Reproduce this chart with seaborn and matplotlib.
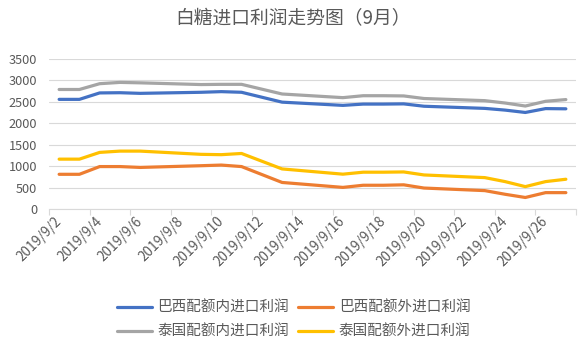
import matplotlib
matplotlib.use("Agg")
import matplotlib.pyplot as plt
from matplotlib.lines import Line2D
import pandas as pd
import seaborn as sns

# ---- data ----
dates = ["2019-09-02", "2019-09-03", "2019-09-04", "2019-09-05", "2019-09-06",
         "2019-09-09", "2019-09-10", "2019-09-11", "2019-09-13",
         "2019-09-16", "2019-09-17", "2019-09-18", "2019-09-19", "2019-09-20",
         "2019-09-23", "2019-09-24", "2019-09-25", "2019-09-26", "2019-09-27"]
brazil_in = [2560, 2560, 2710, 2715, 2700, 2725, 2740, 2725, 2495,
             2420, 2450, 2450, 2455, 2400, 2350, 2310, 2255, 2345, 2340]
brazil_out = [815, 815, 995, 995, 975, 1015, 1030, 995, 625,
              510, 560, 560, 570, 495, 435, 350, 275, 388, 388]
thai_in = [2790, 2790, 2925, 2955, 2945, 2905, 2910, 2910, 2685,
           2600, 2645, 2645, 2640, 2580, 2530, 2475, 2405, 2515, 2555]
thai_out = [1168, 1168, 1325, 1355, 1355, 1280, 1272, 1300, 940,
            818, 864, 864, 870, 800, 738, 645, 528, 645, 700]
series_names = ["巴西配额内进口利润", "巴西配额外进口利润",
                "泰国配额内进口利润", "泰国配额外进口利润"]
tick_dates = ["2019-09-02", "2019-09-04", "2019-09-06", "2019-09-08", "2019-09-10",
              "2019-09-12", "2019-09-14", "2019-09-16", "2019-09-18", "2019-09-20",
              "2019-09-22", "2019-09-24", "2019-09-26"]
tick_labels = ["2019/9/2", "2019/9/4", "2019/9/6", "2019/9/8", "2019/9/10",
               "2019/9/12", "2019/9/14", "2019/9/16", "2019/9/18", "2019/9/20",
               "2019/9/22", "2019/9/24", "2019/9/26"]
y_ticks = [0, 500, 1000, 1500, 2000, 2500, 3000, 3500]
title = "白糖进口利润走势图（9月）"

colors = ["#4472C4", "#ED7D31", "#A5A5A5", "#FFC000"]

wide = pd.DataFrame({"date": pd.to_datetime(dates),
                     series_names[0]: brazil_in,
                     series_names[1]: brazil_out,
                     series_names[2]: thai_in,
                     series_names[3]: thai_out})
df = wide.melt(id_vars="date", var_name="series", value_name="profit")

sns.set_theme(style="white")
plt.rcParams["font.family"] = ["Noto Sans CJK SC", "DejaVu Sans"]

W, H = 587, 356
fig = plt.figure(figsize=(W / 100, H / 100), dpi=100)
left, right, top, bottom = 49, 576, 59, 209.3
ax = fig.add_axes([left / W, 1 - bottom / H, (right - left) / W, (bottom - top) / H])

sns.lineplot(data=df, x="date", y="profit", hue="series", hue_order=series_names,
             palette=colors, linewidth=2.3, ax=ax, legend=False)
for ln in ax.lines:
    ln.set_solid_joinstyle("round")
    ln.set_solid_capstyle("round")

grey_txt = "#595959"
grid_c = "#D9D9D9"

ax.set_ylim(0, 3500)
ax.set_yticks(y_ticks)
ax.set_yticklabels([str(v) for v in y_ticks])
ax.yaxis.grid(True, color=grid_c, linewidth=0.8)
ax.set_axisbelow(True)

x0 = pd.Timestamp("2019-09-01 12:00")
x1 = pd.Timestamp("2019-09-27 12:00")
ax.set_xlim(x0, x1)
ax.set_xticks(pd.to_datetime(tick_dates))
ax.set_xticklabels(tick_labels)
minor = pd.date_range(x0, x1, freq="2D")
ax.set_xticks(minor, minor=True)

for s in ["top", "right", "left"]:
    ax.spines[s].set_visible(False)
ax.spines["bottom"].set_color(grid_c)
ax.spines["bottom"].set_linewidth(0.8)

ax.tick_params(axis="x", which="major", length=0, pad=7, labelsize=9.8, labelcolor=grey_txt)
ax.tick_params(axis="x", which="minor", length=4, width=0.8, color=grid_c, bottom=True)
ax.tick_params(axis="y", length=0, pad=8.5, labelsize=9.2, labelcolor=grey_txt)
for lab in ax.get_xticklabels():
    lab.set_rotation(45)
    lab.set_ha("right")
    lab.set_va("center")
    lab.set_rotation_mode("anchor")
ax.set_xlabel("")
ax.set_ylabel("")

fig.text(0.5, 1 - 19 / H, title, ha="center", va="center", fontsize=13.5, color=grey_txt)

handles = [Line2D([0], [0], color=c, lw=2.3, solid_capstyle="round") for c in colors]
order = [0, 2, 1, 3]  # row-wise ordering as in reference
fig.legend([handles[i] for i in order], [series_names[i] for i in order],
           loc="center", bbox_to_anchor=(0.5, 1 - 320 / H),
           ncol=2, frameon=False, fontsize=10.5, labelcolor=grey_txt,
           handlelength=2.4, handletextpad=0.4, columnspacing=0.6, labelspacing=0.7)

fig.savefig("out.png", dpi=100)
